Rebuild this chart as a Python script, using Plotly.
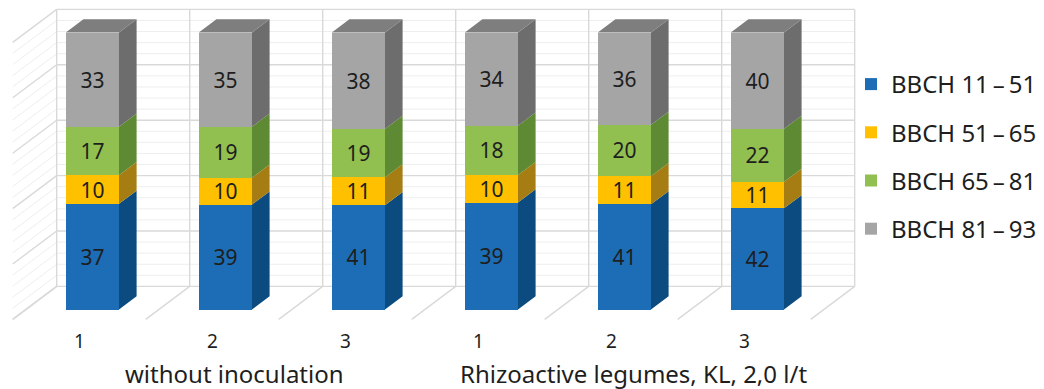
import plotly.graph_objects as go

# ---- data -------------------------------------------------------------
categories = ["1", "2", "3", "1", "2", "3"]
groups = ["without inoculation", "Rhizoactive legumes, KL, 2,0 l/t"]
group_sizes = [3, 3]
series_names = ["BBCH 11\u2009–\u200951", "BBCH 51\u2009–\u200965",
                "BBCH 65\u2009–\u200981", "BBCH 81\u2009–\u200993"]
bbch_11_51 = [37, 39, 41, 39, 41, 42]
bbch_51_65 = [10, 10, 11, 10, 11, 11]
bbch_65_81 = [17, 19, 19, 18, 20, 22]
bbch_81_93 = [33, 35, 38, 34, 36, 40]
series_values = [bbch_11_51, bbch_51_65, bbch_65_81, bbch_81_93]

# ---- styles -----------------------------------------------------------
front_colors = ["#1C6DB5", "#FFC000", "#92C050", "#A5A5A5"]
side_colors = ["#0B4B80", "#A67D12", "#5D8A33", "#6D6D6D"]
top_color = "#7E7E7E"
grid_major = "#D9D9D9"
grid_minor = "#EEEEEE"
text_color = "#1E1E1E"
FONT = "Noto Sans"

# ---- 3-D look: oblique projection set up in pixel units -----------------
W, H = 1044, 389
PX_X = 133.0          # px per category slot
PX_Y = 2.77           # px per percent
ORIGIN_X = 92.4       # px of first bar centre (front plane)
ORIGIN_Y = 309.5      # px of 0 % on the front plane
BAR_W = 0.40          # bar width in category units
DX = 17.6 / PX_X      # one unit of depth, expressed in axis units
DY = 13.2 / PX_Y
FLOOR_FRONT = -0.75   # depth of floor front edge (bar front = 0, bar back = 1)
WALL = 1.75           # depth of the back wall

n = len(categories)


def proj(x, v, d):
    return x + d * DX, v + d * DY


def v_at(py):
    return (ORIGIN_Y - py) / PX_Y


fig = go.Figure()

# ---- walls and floor grid (shapes under the bars) -----------------------
shapes = []


def add_lines(segments, color, width):
    path = " ".join(f"M{x0:.4f},{y0:.4f} L{x1:.4f},{y1:.4f}"
                    for (x0, y0), (x1, y1) in segments)
    shapes.append(dict(type="path", xref="x", yref="y", path=path,
                       layer="below", line=dict(color=color, width=width)))


left, right = -0.5, n - 0.5
minor_segs, major_segs = [], []
for v in range(0, 101, 4):
    back = [proj(left, v, WALL), proj(right, v, WALL)]
    side = [proj(left, v, FLOOR_FRONT), proj(left, v, WALL)]
    target = major_segs if v % 20 == 0 else minor_segs
    target.append(back)
    target.append(side)

vert_segs = []
for k in range(n + 1):
    xb = left + k
    vert_segs.append([proj(xb, 0, WALL), proj(xb, 100, WALL)])
    vert_segs.append([proj(xb, 0, FLOOR_FRONT), proj(xb, 0, WALL)])

add_lines(minor_segs, grid_minor, 1)
add_lines(major_segs, grid_major, 1.4)
add_lines(vert_segs, grid_major, 1.4)

# ---- bars: front faces --------------------------------------------------
xs = list(range(n))
for name, vals, col in zip(series_names, series_values, front_colors):
    fig.add_trace(go.Bar(
        x=xs, y=vals, name=name, width=BAR_W, legendgroup=name,
        marker=dict(color=col, line=dict(width=0)),
        text=vals, texttemplate="%{text}", textposition="inside",
        insidetextanchor="middle", textangle=0, constraintext="none",
        textfont=dict(family=FONT, size=21, color=text_color),
        hoverinfo="skip",
    ))

# ---- bars: side and top faces ------------------------------------------
totals = [sum(s[i] for s in series_values) for i in range(n)]
cum = [0.0] * n
for vals, col in zip(series_values, side_colors):
    px_, py_ = [], []
    for i in range(n):
        lo = cum[i]
        hi = lo + 100.0 * vals[i] / totals[i]
        xr = i + BAR_W / 2
        for p in [proj(xr, lo, 0), proj(xr, hi, 0), proj(xr, hi, 1), proj(xr, lo, 1), proj(xr, lo, 0)]:
            px_.append(p[0]); py_.append(p[1])
        px_.append(None); py_.append(None)
        cum[i] = hi
    fig.add_trace(go.Scatter(x=px_, y=py_, mode="lines", fill="toself",
                             fillcolor=col, line=dict(width=0, color=col),
                             hoverinfo="skip", showlegend=False))

tx, ty = [], []
for i in range(n):
    xl, xr = i - BAR_W / 2, i + BAR_W / 2
    for p in [proj(xl, cum[i], 0), proj(xr, cum[i], 0), proj(xr, cum[i], 1), proj(xl, cum[i], 1), proj(xl, cum[i], 0)]:
        tx.append(p[0]); ty.append(p[1])
    tx.append(None); ty.append(None)
fig.add_trace(go.Scatter(x=tx, y=ty, mode="lines", fill="toself",
                         fillcolor=top_color, line=dict(width=0, color=top_color),
                         hoverinfo="skip", showlegend=False))

# ---- category and group labels ------------------------------------------
annotations = []
for i, lab in enumerate(categories):
    x, _ = proj(i, 0, FLOOR_FRONT)
    annotations.append(dict(x=x, y=v_at(341), text=lab, showarrow=False,
                            xanchor="center", yanchor="middle",
                            font=dict(family=FONT, size=19, color=text_color)))
start = 0
for g, size in zip(groups, group_sizes):
    xc = start + (size - 1) / 2
    x, _ = proj(xc, 0, (FLOOR_FRONT + WALL) / 2)
    annotations.append(dict(x=x, y=v_at(373), text=g, showarrow=False,
                            xanchor="center", yanchor="middle",
                            font=dict(family=FONT, size=24, color=text_color)))
    start += size

fig.update_layout(
    width=W, height=H,
    margin=dict(l=0, r=0, t=0, b=0),
    paper_bgcolor="white", plot_bgcolor="white",
    barmode="stack", barnorm="percent",
    xaxis=dict(range=[-ORIGIN_X / PX_X, (W - ORIGIN_X) / PX_X],
               visible=False, fixedrange=True),
    yaxis=dict(range=[-(H - ORIGIN_Y) / PX_Y, ORIGIN_Y / PX_Y],
               visible=False, fixedrange=True),
    showlegend=True,
    legend=dict(x=851 / W, y=1 - 62 / H, xanchor="left", yanchor="top",
                traceorder="grouped", tracegroupgap=14,
                font=dict(family=FONT, size=24, color=text_color),
                bgcolor="rgba(0,0,0,0)"),
    shapes=shapes,
    annotations=annotations,
    font=dict(family=FONT),
)

fig.write_html("out.html")
